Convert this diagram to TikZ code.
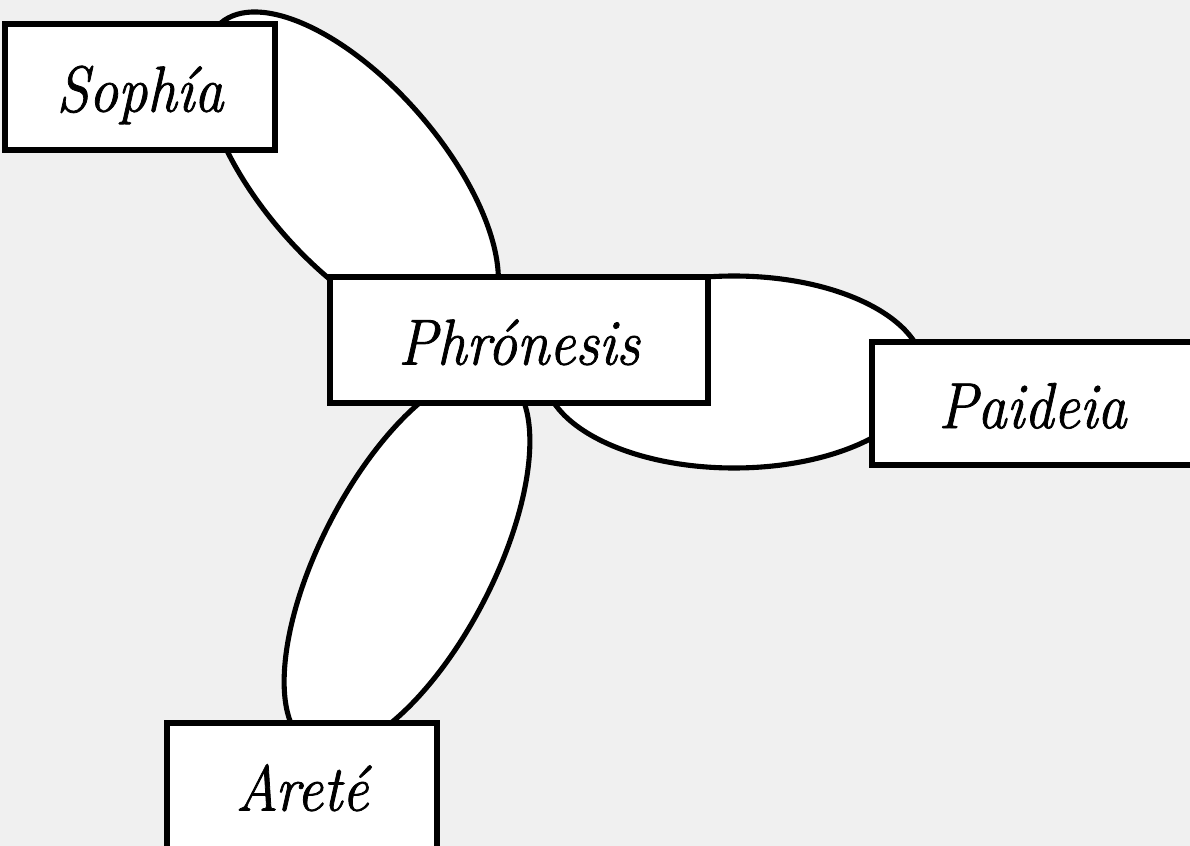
\documentclass[tikz,border=0pt]{standalone}
\usepackage{fontspec}
\newfontfamily\termfont{Latin Modern Roman}[FakeStretch=0.9, FakeBold=1.2]
\usepackage{tikz}
\definecolor{paper}{RGB}{240,240,240}

\begin{document}
\begin{tikzpicture}[
    term/.style={draw=black, fill=white, line width=3pt,
        minimum width=5.4cm, minimum height=2.52cm,
        text height=31pt, text depth=3pt,
        font=\fontsize{37}{44}\termfont\itshape},
    link/.style={draw=black, fill=white, line width=2.9pt}]
                \fill[paper] (0,0) rectangle (23.8,-16.92);
                \useasboundingbox (0,0) rectangle (23.8,-16.92);
                \filldraw[link, rotate around={-49:(7.02,-3.47)}] (7.02,-3.47) ellipse (3.98 and 1.81);
                \filldraw[link] (14.68,-7.44) ellipse (3.8 and 1.92);
                \filldraw[link, rotate around={62.7:(8.14,-11.23)}] (8.14,-11.23) ellipse (4.18 and 1.73);
                \node[term] (sophia) at (2.8,-1.74) {Sophía};
                \node[term, minimum width=7.56cm] (phronesis) at (10.38,-6.8) {Phrónesis};
                \node[term, minimum width=6.42cm, minimum height=2.46cm] (paideia) at (20.65,-8.07) {Paideia};
                \node[term] (arete) at (6.04,-15.72) {Areté};
            \end{tikzpicture}
\end{document}
